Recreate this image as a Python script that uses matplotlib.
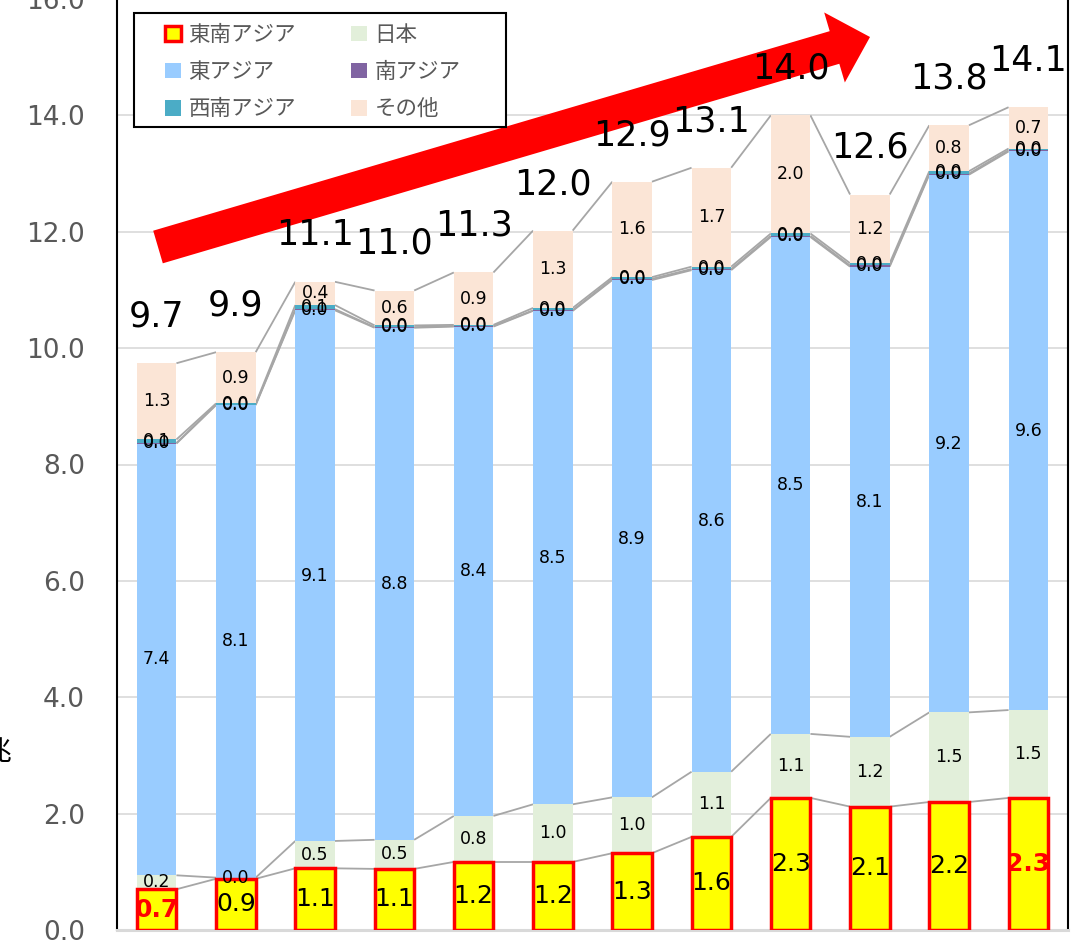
import matplotlib
matplotlib.use("Agg")
import numpy as np
import matplotlib.pyplot as plt
from matplotlib.patches import FancyArrow, Patch, Rectangle

plt.rcParams['font.family'] = ['DejaVu Sans', 'Noto Sans CJK JP']

# 地域別の内訳（12期分）
periods = np.arange(12)
southeast_asia = [0.70, 0.88, 1.06, 1.05, 1.17, 1.17, 1.32, 1.60, 2.27, 2.12, 2.20, 2.27]
japan = [0.24, 0.02, 0.47, 0.50, 0.79, 0.99, 0.96, 1.12, 1.10, 1.20, 1.54, 1.51]
east_asia = [7.42, 8.12, 9.12, 8.80, 8.41, 8.48, 8.89, 8.62, 8.54, 8.08, 9.24, 9.60]
south_asia = [0.01, 0.01, 0.02, 0.01, 0.01, 0.01, 0.02, 0.02, 0.02, 0.02, 0.02, 0.02]
southwest_asia = [0.06, 0.02, 0.07, 0.03, 0.02, 0.04, 0.03, 0.04, 0.04, 0.04, 0.04, 0.03]
others = [1.31, 0.88, 0.40, 0.60, 0.90, 1.33, 1.64, 1.70, 2.03, 1.18, 0.79, 0.71]

series = [
    ('東南アジア', southeast_asia, '#FFFF00'),
    ('日本', japan, '#E2EFDA'),
    ('東アジア', east_asia, '#99CCFF'),
    ('南アジア', south_asia, '#8064A2'),
    ('西南アジア', southwest_asia, '#4BACC6'),
    ('その他', others, '#FBE5D6'),
]

W, H = 1087, 944
fig = plt.figure(figsize=(W / 100, H / 100), dpi=100)
ax = fig.add_axes([117 / W, 14 / H, 951 / W, 931 / H])

bw = 0.5
bottom = np.zeros(len(periods))
tops = []
for i, (name, vals, col) in enumerate(series):
    vals = np.array(vals)
    if i == 0:
        ax.bar(periods, vals, bw, bottom=bottom, color=col, edgecolor='#FF0000',
               linewidth=2.5, zorder=3)
    else:
        ax.bar(periods, vals, bw, bottom=bottom, color=col, edgecolor='none', zorder=2)
    # 値ラベル
    for x, b, v in zip(periods, bottom, vals):
        if i == 0:
            red = x in (0, len(periods) - 1)
            ax.text(x, b + v / 2, f'{v:.1f}', ha='center', va='center', fontsize=18,
                    color='#FF0000' if red else 'black',
                    fontweight='bold' if red else 'normal', zorder=6)
        else:
            ax.text(x, b + v / 2, f'{v:.1f}', ha='center', va='center', fontsize=12.5,
                    color='black', zorder=6)
    bottom = bottom + vals
    tops.append(bottom.copy())

# 区分線（棒の端どうしを結ぶ）
for t in tops:
    for x in periods[:-1]:
        ax.plot([x + bw / 2, x + 1 - bw / 2], [t[x], t[x + 1]], color='#A6A6A6',
                lw=1.3, zorder=1.5, solid_capstyle='butt')

# 合計
total = tops[-1]
for x, v in zip(periods, total):
    ax.text(x, v + 0.8, f'{v:.1f}', ha='center', va='center', fontsize=25,
            color='black', zorder=6)

ax.set_xlim(-0.5, len(periods) - 0.5)
ax.set_ylim(0, 16)
ax.set_yticks(np.arange(0, 17, 2))
ax.set_yticklabels([f'{v:.1f}' for v in np.arange(0, 17, 2)])
ax.set_xticks([])
ax.tick_params(axis='y', length=0, pad=23, labelsize=19, labelcolor='#595959')
ax.yaxis.grid(True, color='#D9D9D9', lw=1.2)
ax.set_axisbelow(True)
ax.spines['top'].set_visible(False)
ax.spines['left'].set_color('black')
ax.spines['left'].set_linewidth(1.5)
ax.spines['right'].set_color('black')
ax.spines['right'].set_linewidth(1.5)
ax.spines['bottom'].set_color('#D9D9D9')
ax.spines['bottom'].set_linewidth(2.2)

# 右肩上がりの矢印
arrow = FancyArrow(1.58, 6.97, 7.12, 2.10, width=0.34, head_width=0.73, head_length=0.37,
                   length_includes_head=True, color='#FF0000', lw=0,
                   transform=fig.dpi_scale_trans, zorder=4)
ax.add_patch(arrow)
ax.set_xlim(-0.5, len(periods) - 0.5)
ax.set_ylim(0, 16)

# 凡例（行ごとに並ぶよう列順に詰め替え）
handles = []
for i, (name, vals, col) in enumerate(series):
    if i == 0:
        handles.append(Patch(facecolor=col, edgecolor='#FF0000', linewidth=2.5, label=name))
    else:
        handles.append(Patch(facecolor=col, edgecolor='none', label=name))
handles = handles[0::2] + handles[1::2]
frame = Rectangle((17 / 951, 803 / 931), 372 / 951, 114 / 931, transform=ax.transAxes,
                  facecolor='white', edgecolor='black', lw=1.5, zorder=7)
ax.add_patch(frame)
leg = ax.legend(handles=handles, ncol=2, loc='upper left',
                bbox_to_anchor=(48 / 951, 906 / 931), frameon=False,
                borderpad=0, borderaxespad=0, handlelength=0.75, handleheight=0.75,
                handletextpad=0.33, columnspacing=2.58, labelspacing=0.7,
                prop={'family': ['Noto Sans CJK JP', 'DejaVu Sans'], 'size': 15.5})
for t in leg.get_texts():
    t.set_color('#595959')
leg.set_zorder(8)

fig.text(-2 / W, (H - 752) / H, '兆', fontsize=20, ha='center', va='center',
         family=['Noto Sans CJK JP', 'DejaVu Sans'])

fig.savefig('out.png', dpi=100)
